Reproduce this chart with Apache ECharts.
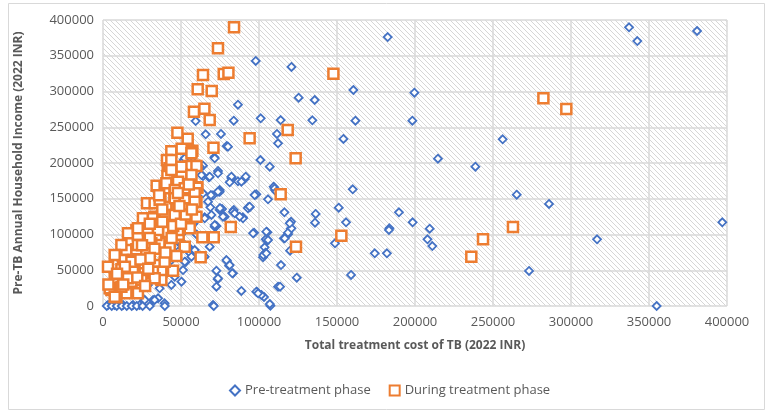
<!DOCTYPE html>
<html><head><meta charset="utf-8">
<script src="https://cdn.jsdelivr.net/npm/echarts@6/dist/echarts.min.js"></script>
<style>html,body{margin:0;padding:0;background:#fff}#c{width:771px;height:415px}</style>
</head><body><div id="c"></div>
<script>
// [total treatment cost (INR), pre-TB annual household income (INR)]
const preTreatmentPoints = [
[337200,389800],[342500,370600],[380800,384600],[256200,233100],[265200,155700],[285900,142700],[397000,117000],[316700,93300],[273100,49000],[354900,0],
[182500,376200],[97900,342700],[120800,334300],[160500,302100],[199600,298300],[125400,291300],[135700,288100],[101100,262500],[113900,260100],[134200,259700],[161800,259200],[198300,259200],[111500,240600],[112200,227500],[154100,233600],[214700,206000],[238700,194800],[100900,204200],[106900,194800],[160100,163200],[109400,166800],[110300,162200],[97400,155700],[105800,149200],[94000,138000],[116300,131000],[151100,137500],[189700,131000],[120500,117900],[136300,128700],[135900,116500],[155800,117000],[198500,117000],[209400,108100],[183600,108700],[183300,106300],[120300,108100],[96800,102500],[105400,103100],[116000,94700],[118600,100300],[208000,93300],[211100,83900],[148700,87700],[105100,91300],[103600,82100],[104100,74500],[102600,68100],[119900,77300],[174200,73700],[182000,73700],[114100,57300],[124200,39600],[159000,43400],[112200,27000],[113500,27000],[98700,19600],[103200,12600],[107300,400],
[86500,281600],[59400,258700],[65800,240100],[75600,240600],[83800,259200],[71400,208000],[79300,223800],[51700,204200],[64100,196200],[73700,188800],[64100,181800],[67900,180000],[82300,179000],[90800,177600],[86500,174400],[74800,162200],[70500,154800],[98300,156200],[68800,138000],[76300,135700],[83800,134300],[93200,138000],[65200,124000],[78000,124900],[89700,124000],[72700,111900],[96200,101700],[104300,93300],[102800,71300],[43800,122700],[55600,74500],[53000,61500],[47100,69000],[65200,69000],[79500,62900],[80800,56400],[83300,45700],[72700,49400],[73500,37300],[72700,27000],[88700,21000],[98300,20000],[101500,15400],[106900,2800],[70500,1400],[39500,3800],[28800,29400],[32100,8400],[35300,10800],[23500,1400],[19200,1400],[12800,1400],[7500,1400],[3200,1400],[43800,64300],[51300,50300],[46000,41000],[54700,83000],[50300,85300],[44900,87700],[40600,113300],
[2400,0],[5600,0],[8800,0],[12000,0],[15200,0],[18400,0],[21600,0],[25400,0],[30000,0],[39600,0],[71000,0],
[26700,8400],[33100,8400],[36300,24800],[43800,29400],[50300,34000],[44900,50300],[52400,62000],[56700,69000],[58800,78300],[51300,87700],[48100,75900],
[62000,194800],[82300,180800],[88700,173900],[81200,173000],[91500,180800],[68400,180800],[97200,155200],[110000,164600],[111100,159900],[74800,159900],[67300,145900],[74800,134300],[83300,131900],[76900,124900],[89700,122700],[92900,136600],[65200,122700],[71600,110900],[66300,97900],[68400,82900],[79100,64300],[81200,57300],[82900,45700],[73700,38700],[99400,17800],[116500,94700],[118600,102500],[120800,108700],[119700,115700],[104700,103900],[105800,92300],[104700,73700],
[80100,222800],[71600,206600],[52400,206600],[57700,201800],[63100,183200],[73700,185600],[73700,159900],[69200,155200],[64100,157600],[46000,127300],[42800,120300],[75000,136900],[84400,129600],[87600,124900],[94000,138900],[71600,113300],[69500,127300],
[55000,130000],[58000,115000],[50000,100000],[60000,100000],[30000,60000],[20000,30000],[25000,45000]
];
const duringTreatmentPoints = [
[84000,390000],[73700,360400],[64100,323000],[77400,324500],[80400,326300],[60700,303000],[69700,300700],[58300,271700],[65000,276000],[68400,260100],[94000,234500],[70800,221400],[46400,185600],[41500,196200],[58600,196200],[50400,185600],[60500,166000],[45500,172500],[51900,172500],
[147700,324900],[118400,246100],[123500,206500],[113900,156200],[152800,98300],[123700,82900],[243600,93300],[236100,69000],[262800,110500],[282300,290500],[297000,275500],[81900,110500],[71000,96100],[63700,96100],[62600,68100],
[43800,216400],[50400,220000],[57300,217200],[54300,234000],[47700,242400],[55100,195800],[59900,195800],[41000,204200],[42600,192600],[41300,181800],[50300,184600],[46200,172400],[50900,162200],[34400,168300],[39500,164600],[60300,165500],[36800,150100],[45800,151000],[28200,143600],[41900,138000],[52400,138000],[59900,145500],[25600,122700],[32900,124900],[42800,124900],[52600,122700],[54500,110900],[21400,106300],[27800,102500],[35100,111900],[41700,103500],[48500,99700],[17100,89900],[23500,92300],[36300,87700],[42800,83900],[15000,78300],[21400,79300],[27800,73700],[12800,64300],[19200,64300],[26700,57300],[35300,57300],[11800,51300],[19200,48000],[37400,48000],[44900,49400],[9600,36400],[18200,34000],[37400,36400],[5400,22400],[11800,18600],[15000,17800],[8600,12200],
[16000,101700],[22400,99300],[34200,99300],[11800,85300],[22400,85300],[31000,87700],[52400,82900],[7500,71300],[18200,62000],[39500,62000],[3200,55000],[26700,45700],[32000,48000],[7500,38700],[16000,38700],[24600,36400],[33100,38700],[4300,24800],[11800,27000],[22400,17800],[7500,13000],
[43800,204200],[50300,194800],[56700,213600],[43800,190200],[40600,171600],[48100,173800],[56700,183200],[52400,164600],[46000,162200],[33100,143600],[40600,138900],[46000,150600],[52400,148300],[58800,157600],[36300,148300],[51300,136600],[58800,145900],[32000,122700],[39500,127300],[46000,127300],[59900,124900],[22400,108700],[28800,106300],[35300,106300],[48100,106300],[55600,108700],
[30000,115000],[38000,118000],[45000,112000],[50000,115000],[44000,95000],[30000,95000],[25000,85000],[33000,80000],[40000,75000],[47000,70000],[30000,67000],[24000,65000],[14000,55000],[29000,52000],[22000,40000],[13000,30000],[27000,28000],[9000,45000],[3500,30000],[36000,155000],[48000,158000],[55000,170000],[38000,135000],[53000,128000],[57000,135000],[49000,140000]
];
const seriesNames = ['Pre-treatment phase', 'During treatment phase'];
const xTitle = 'Total treatment cost of TB (2022 INR)';
const yTitle = 'Pre-TB Annual Household Income (2022 INR)';
const axisMin = 0, axisMax = 400000, axisStep = 50000;

const pc = document.createElement('canvas');
pc.width = 5; pc.height = 5;
const g = pc.getContext('2d');
g.fillStyle = '#ffffff'; g.fillRect(0,0,5,5);
g.strokeStyle = '#d6d6d6'; g.lineWidth = 1;
g.beginPath();
g.moveTo(-1,-1); g.lineTo(6,6);
g.moveTo(-1,4); g.lineTo(1,6);
g.moveTo(4,-1); g.lineTo(6,1);
g.stroke();

const FONT = 'Open Sans';
const plain = v => String(v);
const chart = echarts.init(document.getElementById('c'), null, {renderer:'canvas'});
chart.setOption({
  animation: false,
  backgroundColor: '#ffffff',
  textStyle: {fontFamily: FONT},
  graphic: [{type:'rect', shape:{x:8.5,y:3.5,width:756,height:406}, style:{fill:'none', stroke:'#d9d9d9', lineWidth:1}, silent:true}],
  grid: {left:103, top:20, right:44, bottom:109, show:true, backgroundColor:{image: pc, repeat:'repeat'}, borderWidth:0},
  legend: {
    bottom: 13, left: 224, itemWidth: 10, itemHeight: 10, itemGap: 18,
    textStyle: {color:'#595959', fontSize:13, fontFamily: FONT},
    data: seriesNames
  },
  xAxis: {
    type:'value', min:axisMin, max:axisMax, interval:axisStep,
    name: xTitle, nameLocation:'middle', nameGap:34,
    nameTextStyle:{color:'#595959', fontSize:12, fontWeight:'bold', fontFamily: FONT},
    axisLine:{show:false}, axisTick:{show:false},
    axisLabel:{color:'#595959', fontSize:13, margin:10, fontFamily: FONT, formatter: plain},
    splitLine:{show:true, lineStyle:{color:'#d9d9d9', width:1.5}}
  },
  yAxis: {
    type:'value', min:axisMin, max:axisMax, interval:axisStep,
    name: yTitle, nameLocation:'middle', nameGap:78,
    nameTextStyle:{color:'#595959', fontSize:12, fontWeight:'bold', fontFamily: FONT},
    axisLine:{show:false}, axisTick:{show:false},
    axisLabel:{color:'#595959', fontSize:13, margin:9, fontFamily: FONT, formatter: plain},
    splitLine:{show:true, lineStyle:{color:'#d9d9d9', width:1.5}}
  },
  series: [
    {name: seriesNames[0], type:'scatter', symbol:'diamond', symbolSize:8,
     itemStyle:{color:'#ffffff', borderColor:'#4472C4', borderWidth:1.8, opacity:1},
     data: preTreatmentPoints},
    {name: seriesNames[1], type:'scatter', symbol:'rect', symbolSize:10,
     itemStyle:{color:'#ffffff', borderColor:'#ED7D31', borderWidth:2.5, opacity:1},
     data: duringTreatmentPoints}
  ]
});
</script></body></html>
